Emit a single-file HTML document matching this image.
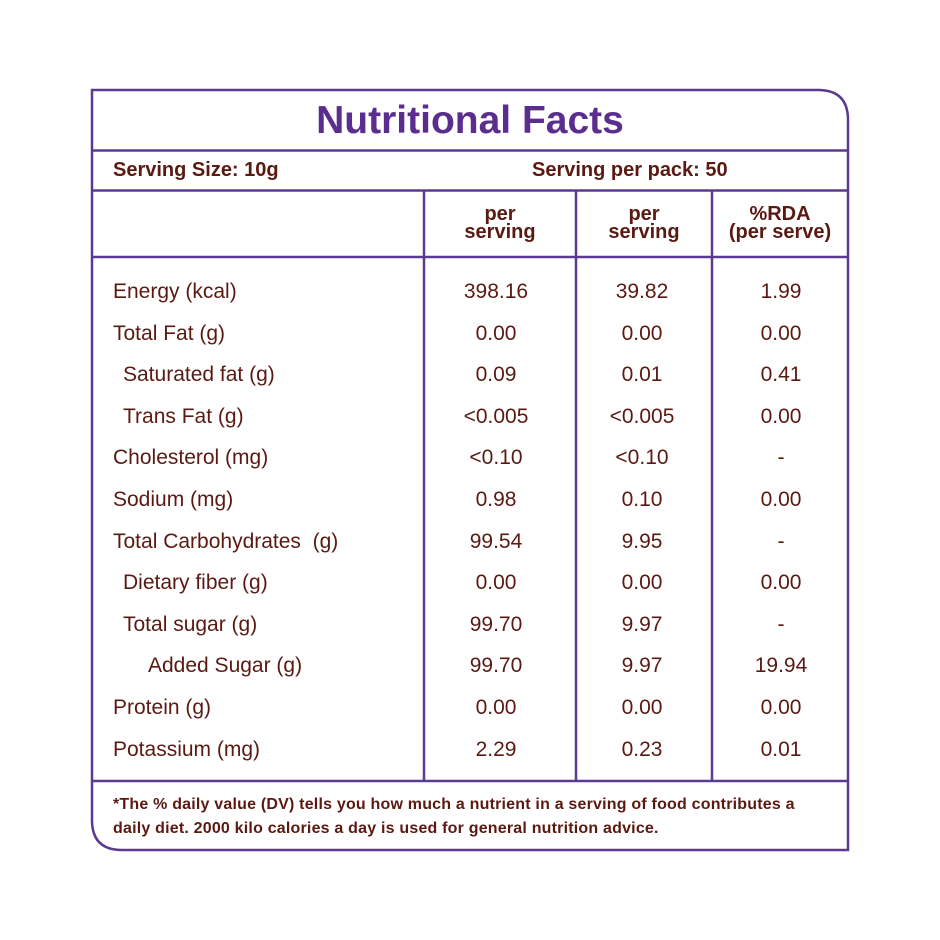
<!DOCTYPE html>
<html><head><meta charset="utf-8"><style>
body{margin:0;width:940px;height:940px;background:#fff;position:relative;font-family:"Liberation Sans","DejaVu Sans",sans-serif;color:#5a1a12;overflow:hidden}
.t{position:absolute;white-space:nowrap;line-height:1}
.c{text-align:center}
.r{font-size:21px}
.b{font-weight:bold}
</style></head><body>
<svg width="940" height="940" style="position:absolute;left:0;top:0" fill="none" stroke="#5b3a91" stroke-width="2.5">
<path d="M92 90 H818 Q848 90 848 120 V850 H122 Q92 850 92 820 Z"/>
<line x1="92" y1="150.5" x2="848" y2="150.5"/>
<line x1="92" y1="190.5" x2="848" y2="190.5"/>
<line x1="92" y1="257" x2="848" y2="257"/>
<line x1="92" y1="781" x2="848" y2="781"/>
<line x1="424" y1="190" x2="424" y2="781"/>
<line x1="576" y1="190" x2="576" y2="781"/>
<line x1="712" y1="190" x2="712" y2="781"/>
</svg>
<div class="t b c" style="left:92px;width:756px;top:101px;font-size:39px;color:#5b2d8e">Nutritional Facts</div>
<div class="t b" style="left:113px;top:160px;font-size:20px">Serving Size: 10g</div>
<div class="t b" style="left:532px;top:160px;font-size:20px">Serving per pack: 50</div>
<div class="t b c" style="left:424px;width:152px;top:205px;font-size:20px;line-height:18px">per<br>serving</div>
<div class="t b c" style="left:576px;width:136px;top:205px;font-size:20px;line-height:18px">per<br>serving</div>
<div class="t b c" style="left:712px;width:136px;top:205px;font-size:20px;line-height:18px">%RDA<br>(per serve)</div>
<div id="rows"></div>
<div class="t b" style="left:113px;top:793px;font-size:16px;line-height:24px;letter-spacing:0.2px">*The % daily value (DV) tells you how much a nutrient in a serving of food contributes a<br>daily diet. 2000 kilo calories a day is used for general nutrition advice.</div>
<script>
var d=[["Energy (kcal)",0,"398.16","39.82","1.99"],["Total Fat (g)",0,"0.00","0.00","0.00"],["Saturated fat (g)",1,"0.09","0.01","0.41"],["Trans Fat (g)",1,"<0.005","<0.005","0.00"],["Cholesterol (mg)",0,"<0.10","<0.10","-"],["Sodium (mg)",0,"0.98","0.10","0.00"],["Total Carbohydrates&nbsp; (g)",0,"99.54","9.95","-"],["Dietary fiber (g)",1,"0.00","0.00","0.00"],["Total sugar (g)",1,"99.70","9.97","-"],["Added Sugar (g)",2,"99.70","9.97","19.94"],["Protein (g)",0,"0.00","0.00","0.00"],["Potassium (mg)",0,"2.29","0.23","0.01"]];
var h="";d.forEach(function(r,i){var y=281+i*41.6;var x=[113,123,148][r[1]];
h+='<div class="t r" style="left:'+x+'px;top:'+y+'px">'+r[0]+'</div>';
h+='<div class="t r c" style="left:420px;width:152px;top:'+y+'px">'+r[2].replace("<","&lt;")+'</div>';
h+='<div class="t r c" style="left:574px;width:136px;top:'+y+'px">'+r[3].replace("<","&lt;")+'</div>';
h+='<div class="t r c" style="left:713px;width:136px;top:'+y+'px">'+r[4]+'</div>';});
document.getElementById("rows").innerHTML=h;
</script>
</body></html>
